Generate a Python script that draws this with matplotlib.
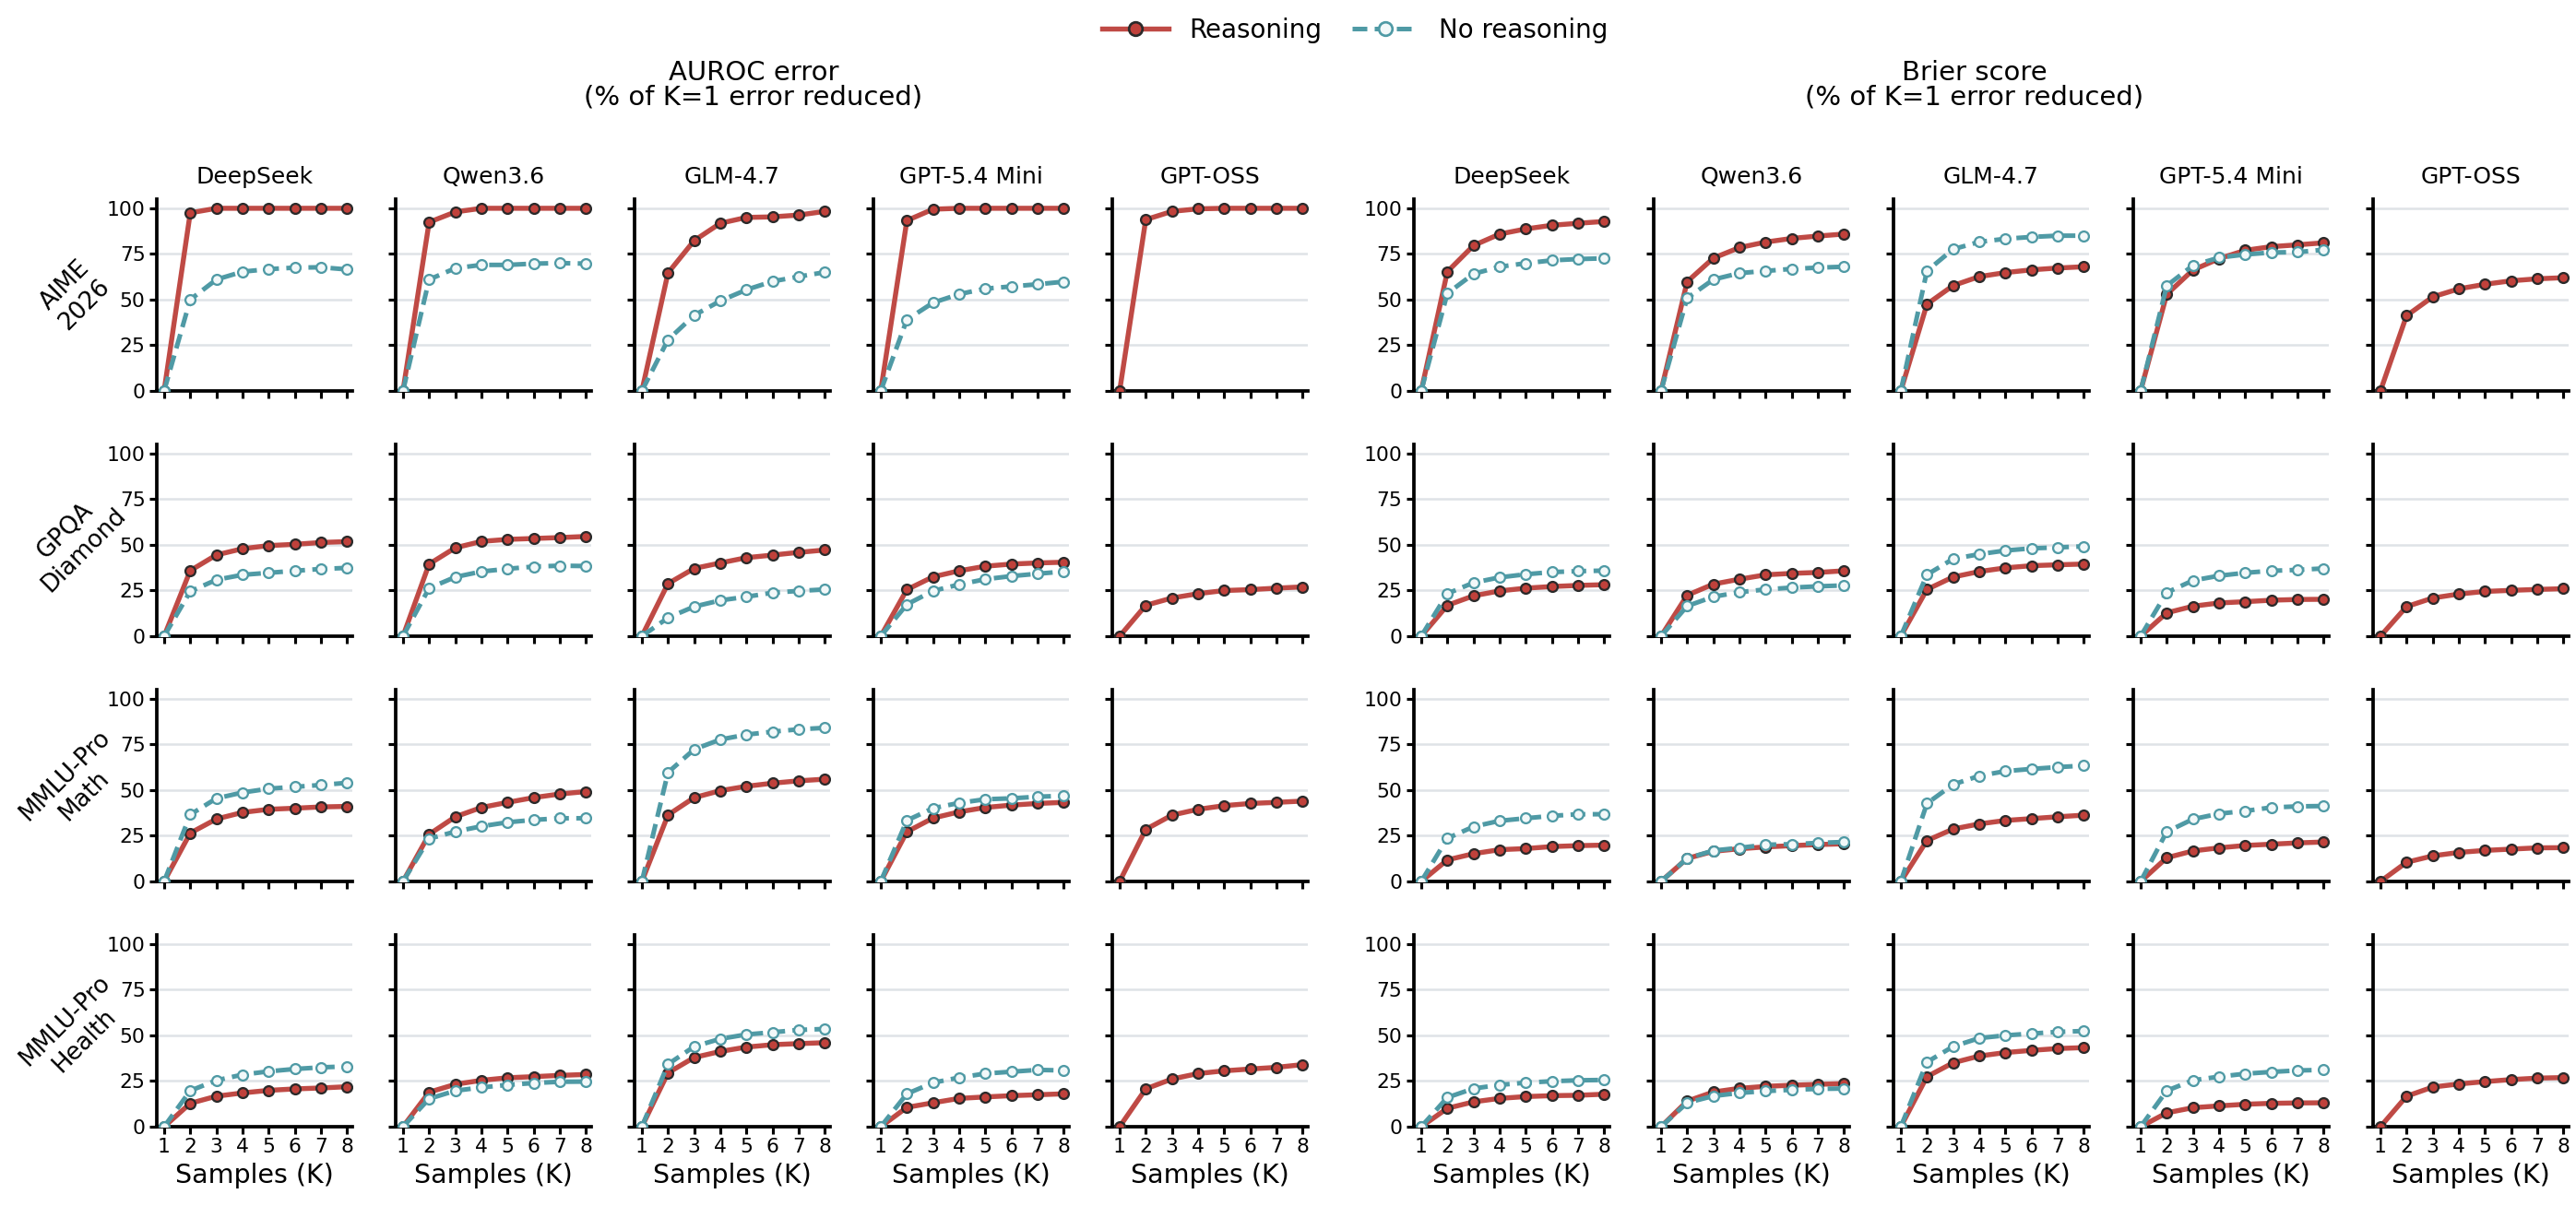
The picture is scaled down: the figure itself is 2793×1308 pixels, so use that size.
import numpy as np
import matplotlib
matplotlib.use('Agg')
import matplotlib.pyplot as plt
from matplotlib.lines import Line2D

# Données : % de l'erreur K=1 réduite, K = 1..8
K = [1, 2, 3, 4, 5, 6, 7, 8]
models = ['DeepSeek', 'Qwen3.6', 'GLM-4.7', 'GPT-5.4 Mini', 'GPT-OSS']
benchmarks = ['AIME\n2026', 'GPQA\nDiamond', 'MMLU-Pro\nMath', 'MMLU-Pro\nHealth']

# AIME 2026
auroc_aime_r = [[0, 97.5, 100, 100, 100, 100, 100, 100],
                [0, 92.4, 98, 100, 100, 100, 100, 100],
                [0, 64.6, 82.3, 91.8, 95, 95.3, 96.3, 98.3],
                [0, 93.3, 99.5, 100, 100, 100, 100, 100],
                [0, 93.8, 98.3, 99.7, 100, 100, 100, 100]]
auroc_aime_nr = [[0, 50, 61, 65.3, 66.7, 67.5, 67.7, 66.5],
                 [0, 61, 67.2, 69, 69, 69.7, 70, 69.7],
                 [0, 28, 41.4, 49.3, 55.4, 60, 62.6, 65],
                 [0, 39, 48.3, 53, 56, 57.2, 58.4, 59.8],
                 None]
brier_aime_r = [[0, 65.3, 79.6, 85.9, 88.7, 90.7, 91.8, 92.8],
                [0, 59.8, 72.7, 78.5, 81.5, 83.5, 84.8, 85.9],
                [0, 47.5, 57.7, 62.6, 64.8, 66.3, 67.3, 68],
                [0, 52.9, 66.2, 72.4, 77, 79, 80, 81.1],
                [0, 41.2, 51.5, 55.9, 58.4, 60.3, 61.4, 62]]
brier_aime_nr = [[0, 53.4, 64.1, 68, 69.9, 71.5, 72.2, 72.6],
                 [0, 50.8, 61, 64.5, 65.7, 66.8, 67.5, 68],
                 [0, 65.7, 77.6, 81.6, 83.3, 84.3, 85, 85],
                 [0, 57.6, 68.7, 73, 74.7, 75.8, 76, 77.3],
                 None]

# GPQA Diamond
auroc_gpqa_r = [[0, 35.9, 44.5, 47.9, 49.6, 50.3, 51.3, 51.8],
                [0, 39.5, 48.4, 51.9, 53, 53.5, 54, 54.6],
                [0, 28.8, 37.1, 40.1, 43, 44.4, 45.9, 47.2],
                [0, 25.5, 32.5, 35.8, 38.3, 39.5, 40.1, 40.5],
                [0, 16.9, 20.9, 23.3, 25, 25.5, 26.3, 27]]
auroc_gpqa_nr = [[0, 24.5, 30.9, 33.6, 34.7, 35.8, 36.8, 37.4],
                 [0, 26.3, 32.4, 35.4, 36.9, 38.1, 38.6, 38.4],
                 [0, 10.1, 16.2, 19.6, 21.6, 23.8, 24.8, 25.6],
                 [0, 17.4, 24.8, 28.3, 31.2, 32.9, 34.2, 35.4],
                 None]
brier_gpqa_r = [[0, 16.9, 22.1, 24.8, 26.3, 27.2, 27.8, 28.2],
                [0, 22.4, 28.5, 31.2, 33.6, 34.4, 34.9, 35.8],
                [0, 25.6, 32.4, 35.4, 37.4, 38.6, 39.1, 39.5],
                [0, 12.8, 16.4, 18.2, 18.9, 19.7, 20.1, 20.2],
                [0, 16.2, 20.9, 23.1, 24.5, 25.1, 25.6, 26]]
brier_gpqa_nr = [[0, 23.3, 29.3, 32.2, 33.9, 35.1, 35.6, 35.9],
                 [0, 16.5, 21.6, 24.1, 25.6, 26.6, 27.3, 27.8],
                 [0, 33.7, 42.3, 44.9, 46.9, 48.1, 48.6, 49.2],
                 [0, 23.9, 30.5, 33.1, 34.7, 35.8, 36.3, 37.1],
                 None]

# MMLU-Pro Math
auroc_math_r = [[0, 26.5, 34.2, 37.8, 39.5, 40.1, 40.8, 41.1],
                [0, 25.8, 35.4, 40.5, 43.3, 45.9, 47.9, 49.2],
                [0, 36.4, 45.9, 49.7, 52.1, 53.8, 55.1, 56],
                [0, 27.2, 34.7, 38.1, 40.5, 41.8, 42.7, 43.3],
                [0, 28.5, 36.3, 39.5, 41.5, 42.7, 43.3, 44]]
auroc_math_nr = [[0, 36.6, 45.5, 48.7, 50.8, 51.8, 52.8, 54],
                 [0, 23.4, 27.3, 30.2, 32.4, 33.7, 34.6, 34.6],
                 [0, 59.7, 72.3, 77.7, 80.4, 82, 83.3, 84.1],
                 [0, 33.4, 40.1, 43, 45, 45.5, 46.4, 46.9],
                 None]
brier_math_r = [[0, 11.8, 15.2, 17.4, 18, 19.1, 19.6, 19.9],
                [0, 12.6, 16.5, 17.9, 18.9, 19.6, 20.2, 20.6],
                [0, 22.4, 28.7, 31.5, 33.4, 34.4, 35.4, 36.3],
                [0, 13, 16.7, 18.4, 19.7, 20.4, 21.1, 21.6],
                [0, 10.5, 14, 15.9, 17, 17.7, 18.4, 18.5]]
brier_math_nr = [[0, 23.6, 30, 33.2, 34.6, 35.9, 36.8, 36.8],
                 [0, 12.6, 16.9, 18.4, 20.1, 20.4, 21.1, 21.6],
                 [0, 42.7, 53.1, 57.8, 60.4, 61.6, 62.6, 63.4],
                 [0, 27.2, 34.1, 37.1, 38.6, 40.5, 41.1, 41.3],
                 None]

# MMLU-Pro Health
auroc_health_r = [[0, 12.8, 16.7, 18.5, 19.9, 20.7, 21.2, 21.9],
                  [0, 18.9, 23.2, 25.4, 26.8, 27.4, 28.1, 28.6],
                  [0, 29.5, 37.9, 41.2, 43.6, 44.9, 45.5, 46],
                  [0, 10.6, 13.1, 15.5, 16.3, 17, 17.5, 18],
                  [0, 20.7, 26.1, 29.1, 30.6, 31.6, 32.5, 34]]
auroc_health_nr = [[0, 19.7, 25.4, 28.5, 30.3, 31.6, 32.5, 33],
                   [0, 15.3, 19.7, 21.5, 22.9, 23.9, 24.6, 24.7],
                   [0, 34.2, 43.9, 48.1, 50.5, 51.7, 53, 53.5],
                   [0, 18, 24.1, 26.9, 29.1, 30.1, 31.1, 30.8],
                   None]
brier_health_r = [[0, 10.1, 13.6, 15.5, 16.5, 17, 17.2, 17.8],
                  [0, 14, 19, 21, 22.1, 22.7, 23.2, 23.6],
                  [0, 27.4, 35, 38.7, 40.6, 41.8, 42.8, 43.3],
                  [0, 7.6, 10.4, 11.4, 12.3, 12.8, 13, 13.1],
                  [0, 16.7, 21.7, 23.4, 24.7, 25.8, 26.6, 26.9]]
brier_health_nr = [[0, 16, 20.9, 22.9, 24.1, 24.9, 25.4, 25.6],
                   [0, 13.1, 16.8, 18.5, 19.5, 20.2, 20.7, 20.9],
                   [0, 35.4, 43.9, 48.5, 50, 51, 51.9, 52.4],
                   [0, 19.7, 25.4, 27.4, 29, 30, 30.8, 31.1],
                   None]

auroc_r = [auroc_aime_r, auroc_gpqa_r, auroc_math_r, auroc_health_r]
auroc_nr = [auroc_aime_nr, auroc_gpqa_nr, auroc_math_nr, auroc_health_nr]
brier_r = [brier_aime_r, brier_gpqa_r, brier_math_r, brier_health_r]
brier_nr = [brier_aime_nr, brier_gpqa_nr, brier_math_nr, brier_health_nr]

RED = '#BF4A45'
TEAL = '#4F9AA5'

W, H = 2793, 1308
fig = plt.figure(figsize=(W / 150, H / 150), dpi=150)

col_left = [[170, 429, 688, 947, 1206], [1533, 1793, 2053, 2313, 2573]]
row_y0 = [424, 690, 956, 1222]
ax_w, ax_h = 212, 208

for g, (data_r, data_nr) in enumerate([(auroc_r, auroc_nr), (brier_r, brier_nr)]):
    for i in range(4):
        for j in range(5):
            ax = fig.add_axes([col_left[g][j] / W, 1 - row_y0[i] / H, ax_w / W, ax_h / H])
            ax.grid(axis='y', color='#DFE3E7', lw=1.2, zorder=0)
            ax.plot(K, data_r[i][j], color=RED, lw=2.6, marker='o', ms=5.2,
                    mfc='#C0413B', mec='#2A2A2A', mew=1.1, zorder=3)
            if data_nr[i][j] is not None:
                ax.plot(K, data_nr[i][j], color=TEAL, lw=2.4, ls=(0, (3.2, 1.6)), marker='o',
                        ms=5.2, mfc='#F2F8F9', mec=TEAL, mew=1.1, zorder=4)
            ax.set_xlim(0.72, 8.2)
            ax.set_ylim(0, 105)
            ax.set_xticks(K)
            ax.set_yticks([0, 25, 50, 75, 100])
            ax.tick_params(axis='both', width=1.5, length=4, labelsize=10.5, pad=2)
            for s in ['top', 'right']:
                ax.spines[s].set_visible(False)
            for s in ['left', 'bottom']:
                ax.spines[s].set_linewidth(1.8)
            if j != 0:
                ax.set_yticklabels([])
            if i != 3:
                ax.set_xticklabels([])
            else:
                ax.set_xlabel('Samples (K)', fontsize=13.7, labelpad=3)
            if i == 0:
                ax.set_title(models[j], fontsize=12, pad=8)
            if g == 0 and j == 0:
                ax.text(-0.42, 0.5, benchmarks[i], transform=ax.transAxes, rotation=45,
                        ha='center', va='center', multialignment='center', fontsize=12.5)

fig.text(817 / W, 1 - 92 / H, 'AUROC error\n(% of K=1 error reduced)', ha='center',
         va='center', fontsize=14, linespacing=0.95)
fig.text(2141 / W, 1 - 92 / H, 'Brier score\n(% of K=1 error reduced)', ha='center',
         va='center', fontsize=14, linespacing=0.95)

handles = [Line2D([], [], color=RED, lw=2.6, marker='o', ms=7, mfc='#C0413B', mec='#2A2A2A', mew=1.3),
           Line2D([], [], color=TEAL, lw=2.4, ls=(0, (3.2, 1.6)), marker='o', ms=7,
                  mfc='#F2F8F9', mec=TEAL, mew=1.3)]
fig.legend(handles, ['Reasoning', 'No reasoning'], loc='center', bbox_to_anchor=(0.526, 1 - 33 / H),
           ncol=2, frameon=False, fontsize=13.3, handlelength=2.6, columnspacing=1.2)

fig.savefig('out.png', dpi=150)
